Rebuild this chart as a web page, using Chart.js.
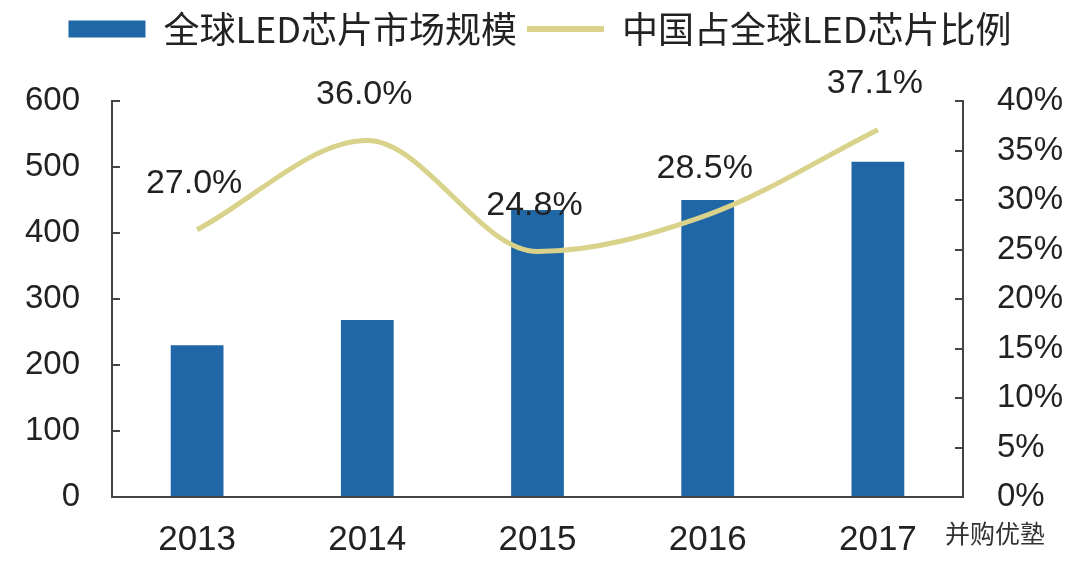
<!DOCTYPE html>
<html><head><meta charset="utf-8">
<script src="https://cdn.jsdelivr.net/npm/chart.js@4.4.1/dist/chart.umd.min.js"></script>
<style>html,body{margin:0;padding:0;background:#fff}#wrap{width:1080px;height:577px;position:relative}</style>
</head><body><div id="wrap"><canvas id="c"></canvas></div>
<script>
const categories = ['2013', '2014', '2015', '2016', '2017'];
const marketSize = [230, 268, 435, 450, 508];
const chinaShare = [27.0, 36.0, 24.8, 28.5, 37.1];
const leftTicks = [0, 100, 200, 300, 400, 500, 600];
const rightTicks = [0, 5, 10, 15, 20, 25, 30, 35, 40];
const seriesNames = ['全球LED芯片市场规模', '中国占全球LED芯片比例'];
const watermark = '并购优塾';

const barColor = '#1f67a6';
const lineColor = '#d8d28a';
const axisColor = '#444';
const textColor = '#222';
const latin = "'Liberation Sans', Arial, sans-serif";
const cjk = "'Noto Sans CJK SC', sans-serif";

const labelPlugin = {
  id: 'pointLabels',
  afterDatasetsDraw(chart) {
    const ctx = chart.ctx;
    const meta = chart.getDatasetMeta(1);
    ctx.save();
    ctx.font = '34px ' + latin;
    ctx.fillStyle = textColor;
    ctx.textAlign = 'center';
    ctx.textBaseline = 'middle';
    meta.data.forEach((pt, i) => {
      ctx.fillText(chinaShare[i].toFixed(1) + '%', pt.x - 3, pt.y - 46);
    });
    ctx.font = '25px ' + cjk;
    ctx.fillStyle = '#333';
    ctx.textAlign = 'left';
    ctx.fillText(watermark, 945, 533);
    ctx.restore();
  }
};

new Chart(document.getElementById('c'), {
  type: 'bar',
  data: {
    labels: categories,
    datasets: [
      {
        type: 'bar', label: seriesNames[0], data: marketSize, yAxisID: 'y',
        backgroundColor: barColor, barPercentage: 0.31, categoryPercentage: 1.0, order: 2
      },
      {
        type: 'line', label: seriesNames[1], data: chinaShare, yAxisID: 'y1',
        borderColor: lineColor, borderWidth: 5, pointRadius: 0,
        cubicInterpolationMode: 'monotone', fill: false, order: 1
      }
    ]
  },
  options: {
    responsive: true, maintainAspectRatio: false, animation: false,
    layout: { padding: { top: 1, left: 0, right: 0, bottom: 0 } },
    plugins: {
      tooltip: { enabled: false },
      title: { display: true, text: '', weight: 500, font: { size: 10, lineHeight: 1 }, padding: { top: 0, bottom: 34 } },
      legend: {
        position: 'top',
        labels: {
          usePointStyle: true, pointStyleWidth: 77, boxHeight: 17, padding: 10,
          font: { size: 36, family: cjk }, color: textColor,
          generateLabels: () => [
            { text: seriesNames[0], fillStyle: barColor, strokeStyle: barColor, lineWidth: 0, pointStyle: 'rect', datasetIndex: 0, hidden: false, fontColor: textColor },
            { text: seriesNames[1], fillStyle: lineColor, strokeStyle: lineColor, lineWidth: 6, pointStyle: 'line', datasetIndex: 1, hidden: false, fontColor: textColor }
          ]
        }
      }
    },
    scales: {
      x: {
        grid: { display: false, drawTicks: false },
        border: { display: true, color: axisColor, width: 2 },
        ticks: { font: { size: 35, family: latin }, color: textColor, padding: 22 },
        afterFit: (s) => { s.height = 80; }
      },
      y: {
        position: 'left', min: 0, max: 600,
        afterBuildTicks: (s) => { s.ticks = leftTicks.map(v => ({ value: v })); },
        grid: { drawOnChartArea: false, drawTicks: true, tickLength: -8, color: axisColor, lineWidth: 2 },
        border: { display: true, color: axisColor, width: 2 },
        ticks: { font: { size: 33, family: latin }, color: textColor, padding: 40 },
        afterFit: (s) => { s.width = 112; }
      },
      y1: {
        position: 'right', min: 0, max: 40,
        afterBuildTicks: (s) => { s.ticks = rightTicks.map(v => ({ value: v })); },
        grid: { drawOnChartArea: false, drawTicks: true, tickLength: -8, color: axisColor, lineWidth: 2 },
        border: { display: true, color: axisColor, width: 2 },
        ticks: { font: { size: 33, family: latin }, color: textColor, padding: 42, callback: (v) => v + '%' },
        afterFit: (s) => { s.width = 117; }
      }
    }
  },
  plugins: [labelPlugin]
});
</script></body></html>
